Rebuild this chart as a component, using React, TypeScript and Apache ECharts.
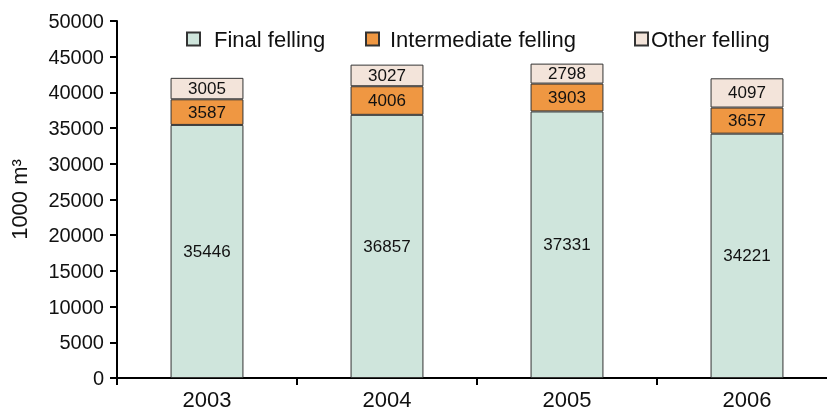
import React, { useEffect, useRef } from "react";
import * as echarts from "echarts";

const years = ["2003", "2004", "2005", "2006"];
const finalFelling = [35446, 36857, 37331, 34221];
const intermediateFelling = [3587, 4006, 3903, 3657];
const otherFelling = [3005, 3027, 2798, 4097];

const FONT = "'Liberation Sans', Arial, sans-serif";

export default function App() {
  const ref = useRef<HTMLDivElement>(null);
  useEffect(() => {
    const chart = echarts.init(ref.current!, null, { renderer: "svg" });
    const mk = (name: string, data: number[], color: string) => ({
      name,
      type: "bar",
      stack: "total",
      data,
      barWidth: "40.5%",
      itemStyle: { color, borderColor: "#333", borderWidth: 1 },
      label: {
        show: true,
        position: "inside",
        color: "#111",
        fontSize: 17,
        fontFamily: FONT,
      },
    });
    const leg = (name: string, left: number, gap: number) => ({
      left,
      top: 28,
      padding: 0,
      itemWidth: 13,
      itemHeight: 13,
      icon: "rect",
      textStyle: {
        fontSize: 22,
        color: "#111",
        fontFamily: FONT,
        padding: [0, 0, 0, gap],
      },
      data: [name],
    });
    chart.setOption({
      animation: false,
      textStyle: { fontFamily: FONT },
      legend: [
        leg("Final felling", 186, 9),
        leg("Intermediate felling", 365, 6),
        leg("Other felling", 634, -2),
      ],
      grid: {
        left: 117,
        top: 21,
        bottom: 36,
        width: 720,
        outerBoundsMode: "none",
        containLabel: false,
      },
      xAxis: {
        type: "category",
        data: years,
        axisLine: { lineStyle: { color: "#000", width: 2 } },
        axisTick: { show: true, length: 7, lineStyle: { color: "#000", width: 2 } },
        axisLabel: { fontSize: 22, color: "#111", margin: 10, fontFamily: FONT },
      },
      yAxis: {
        type: "value",
        min: 0,
        max: 50000,
        interval: 5000,
        name: "1000 m³",
        nameLocation: "middle",
        nameGap: 87,
        nameRotate: 90,
        nameTextStyle: { fontSize: 22, color: "#111", fontFamily: FONT },
        splitLine: { show: false },
        axisLine: { show: true, lineStyle: { color: "#000", width: 2 } },
        axisTick: { show: true, length: 7, lineStyle: { color: "#000", width: 2 } },
        axisLabel: {
          fontSize: 20,
          color: "#111",
          margin: 13,
          fontFamily: FONT,
          formatter: (v: number) => String(v),
        },
      },
      series: [
        mk("Final felling", finalFelling, "#cfe5dc"),
        mk("Intermediate felling", intermediateFelling, "#ef9742"),
        mk("Other felling", otherFelling, "#f3e4da"),
      ],
    });
    return () => chart.dispose();
  }, []);
  return (
    <div
      ref={ref}
      style={{ position: "fixed", left: 0, top: 0, width: 827, height: 414 }}
    />
  );
}
